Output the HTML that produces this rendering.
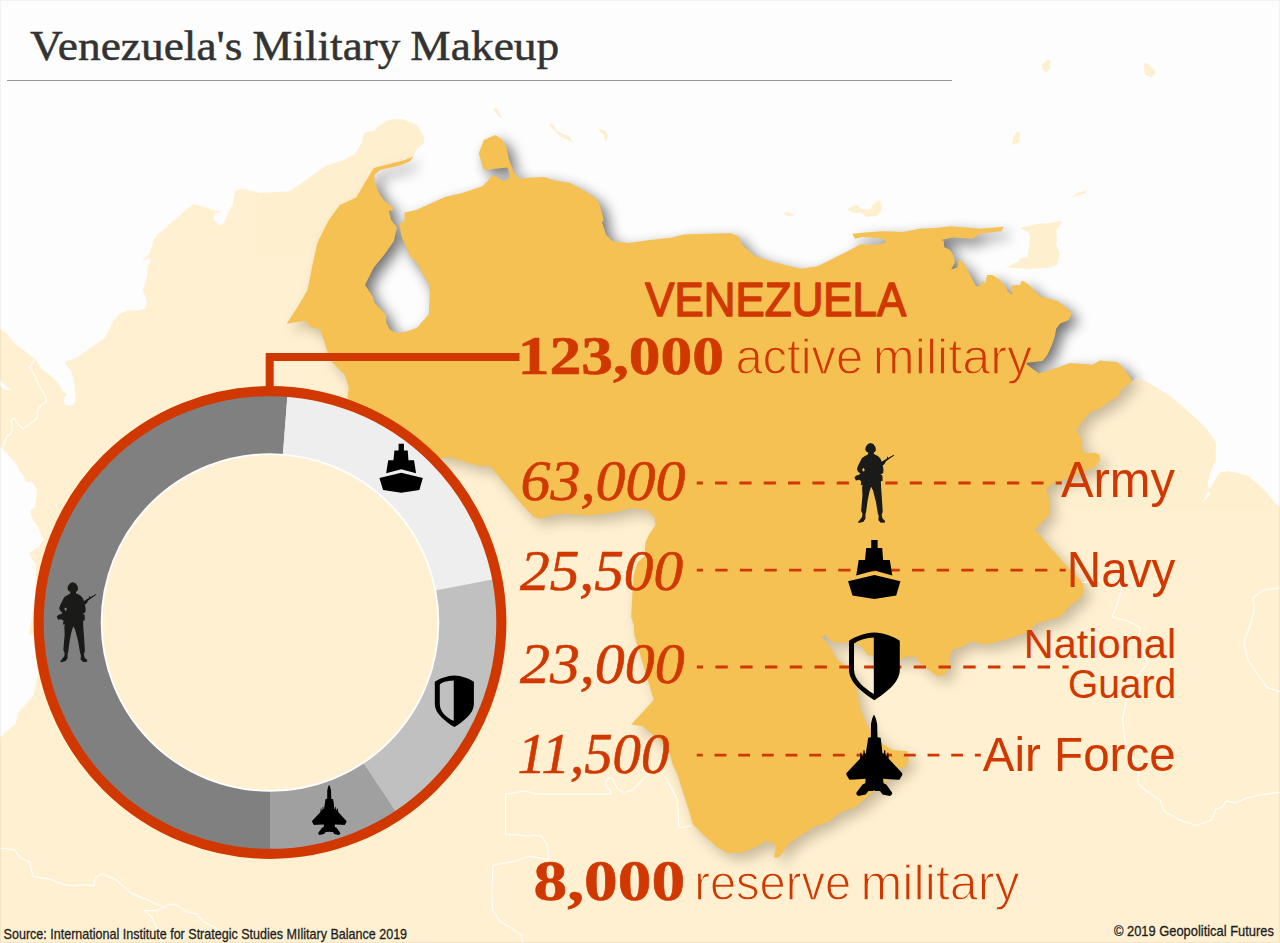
<!DOCTYPE html>
<html><head><meta charset="utf-8"><title>Venezuela's Military Makeup</title>
<style>
html,body{margin:0;padding:0;background:#FDFDFD;}
body{width:1280px;height:943px;overflow:hidden;font-family:"Liberation Sans",sans-serif;}
svg{display:block}
</style></head><body>
<svg width="1280" height="943" viewBox="0 0 1280 943">
<defs>
<filter id="sh" filterUnits="userSpaceOnUse" x="200" y="60" width="1060" height="880">
<feGaussianBlur in="SourceAlpha" stdDeviation="7"/>
<feOffset dx="5.5" dy="5.5"/>
<feComponentTransfer><feFuncA type="linear" slope="0.56"/></feComponentTransfer>
</filter>
</defs>
<rect width="1280" height="943" fill="#FDFDFD"/>

<path d="M287,323.2 L298.8,305 L307.5,290 L312.5,265 L317.5,242.5 L328.8,220 L340,205 L356.2,197.5 L365,182.5 L373.8,168 L390,163.8 L405,160 L413.8,156.2 L410,161.2 L400,165.5 L380,170 L374.5,175 L374.5,182.5 L380,195 L385,201.2 L393.8,208 L393,210 L388.8,210.8 L391.2,220 L397,227.5 L393.8,241.2 L385,253.8 L373.8,267.5 L365,285 L372.5,296.2 L374.5,302.5 L382.5,311.2 L386.2,315 L386.2,322.5 L390,330 L397.5,333.2 L407.5,331.2 L417.5,327.5 L422.5,321.2 L428.8,314.5 L430,290 L428.8,283.8 L422.5,273.8 L417.5,263.8 L410,256.2 L405,245 L401.2,235 L399.5,223.8 L404.5,221.2 L404.5,212.5 L416.2,210 L430,203.8 L445,197 L462.5,193 L482.5,186.2 L487.5,181.2 L491.2,176.2 L495,176.2 L503.8,181.2 L508.8,178.8 L509.5,173.8 L507.5,167.5 L483.8,170 L478.8,153.2 L483.8,140 L495.5,135 L501.2,138.8 L506.2,146.2 L508.8,158.8 L513.8,172.5 L519.5,178.8 L527.5,178 L543.8,177 L555,180.5 L570,183 L585,191.2 L596.2,198.8 L599.8,205 L602.5,215 L603.8,220 L602,222.5 L606.2,235 L612.5,241.2 L628.8,243 L650,240 L672.5,237.5 L683.8,234.5 L710,233.8 L731.2,233.2 L739.5,237 L741.2,243.8 L755,256.2 L775,262.5 L790,266.2 L801.2,268.8 L817.5,266.2 L832.5,258.8 L850,250 L860,244.5 L875,245 L885,243 L886.2,240.5 L880,238.2 L862.5,237 L855,238.8 L852.5,233.8 L865,232.5 L882.5,231.2 L902.5,232 L919.8,228.8 L935,228 L951.2,226.2 L980,228.8 L1003.8,226.8 L1001.2,231.2 L980,233.8 L972.5,238.8 L952.5,237.5 L941.2,240 L943.8,240.8 L944.2,247 L950,250 L953.8,256.2 L955,262.5 L951.2,269.5 L957.5,267.5 L958.8,260 L963.8,262.5 L970,275 L976.2,286.2 L980,286.2 L982.5,281.2 L985.5,283.8 L987,275 L992.5,275 L1000,280 L1006.2,287.5 L1007.5,291.2 L1012.5,295 L1011.2,285.5 L1020,285 L1022,280.5 L1027.5,283.8 L1040,296.2 L1057.5,301.2 L1067.5,308.8 L1071.8,313.8 L1068.8,320 L1060,323.8 L1056.2,328.8 L1055,335.8 L1052.5,343.5 L1047.5,354.8 L1042.5,361 L1025,363 L1038.8,373.5 L1056.2,368 L1070,363 L1092.5,364.8 L1100,360.5 L1117.5,362.2 L1123.8,368.5 L1132.5,381 L1127.5,384.8 L1120,391 L1118.8,396 L1110,401 L1100,408.5 L1090,412.2 L1083.8,419.8 L1076.2,430.5 L1082.5,441 L1081.2,447.2 L1085,453.5 L1095,452.8 L1099.5,454.8 L1100,459.8 L1095,467.2 L1080,473 L1070,477.2 L1052.5,483.5 L1046.2,489 L1048.8,498.5 L1050,513.5 L1035,529.8 L1050,547.2 L1070,569.8 L1077.5,577 L1083,583.2 L1083.8,592 L1080,598.2 L1070,605.8 L1060,617 L1050,619.5 L1037.5,623.2 L1025,633.2 L1007.5,639 L986.2,644.5 L971.2,641.5 L961.2,647 L952.5,649.5 L949.5,657 L948.8,668.2 L945,674.5 L937.5,676.5 L930,670.8 L920,663.2 L915,656.2 L905,657 L899.5,660 L885,657.5 L867.5,655 L860,645 L850,643 L832.5,642 L825,635 L821.2,636.2 L830,647.5 L837.5,660 L850,668.8 L855,680 L857.5,695 L860,707.5 L865,720 L870,730 L880,742.5 L892.5,750 L907.5,751.2 L908.8,760 L906.2,766.2 L900,768.8 L887.5,780 L865,798.8 L855,807.5 L840,812.5 L827.5,822.5 L815,826.2 L805,832.5 L790,842.5 L778.8,857.5 L773.8,857.5 L776.2,847.5 L772.5,842.5 L765,841.2 L755,847.5 L742.5,852.5 L727.5,853 L717.5,847.5 L705,836.2 L692.5,823.8 L688.8,810 L683.8,795 L677.5,775 L672.5,763.8 L670,753.8 L660,740 L650,732.5 L642.5,726.2 L631.2,724.5 L640,715 L653.8,700 L634.5,635.8 L633.8,625 L631.2,617.5 L632,600 L633.8,575 L637.5,562.5 L644.5,556.2 L645.5,542.5 L648.8,535 L655.5,525 L654.5,517.5 L647.5,510 L630,508 L615,512.5 L590,515.5 L565,513.8 L552.5,515 L540,518.8 L533.8,517 L522.5,505 L510,490 L497.5,475 L490,466.2 L477.5,465.5 L462.5,461.2 L450,457 L440,458 L400,440 L365,415 L347.5,397.5 L348.8,387.5 L345,375 L332.5,362.5 L327.5,352.5 L323.8,340 L320,328.8 L311.2,327.5 L305,320.5 L287,323.8 Z" fill="#000" filter="url(#sh)"/>
<g opacity="0.6">
<path d="M413.8,156.2 L415,151.2 L424.5,142.5 L423.8,136.2 L417,125 L402.5,119 L390,119.5 L377.5,126.2 L374.5,131.2 L367.5,131.8 L363.8,133.8 L362,142.5 L355,153.8 L343.8,160 L326.2,165.5 L290,191.2 L260,193 L242.5,188.8 L236.2,190.5 L233.8,195 L233,203.8 L227.5,213.8 L225,221.2 L221.2,225.5 L217,223.8 L213.2,218.8 L215,213.8 L222.5,211.2 L216.2,210.8 L193.8,203.8 L187.5,208.8 L176.2,218.8 L168.8,224.5 L166.2,228 L157.5,234.2 L153.2,241.2 L150,252.5 L141.8,262 L149.5,258 L151.2,260 L147.5,266.2 L147.5,275 L145,283.8 L142.5,290.5 L145,295 L147,302.5 L144.5,308.8 L137,310.8 L128,310 L120,313.8 L113.8,320 L105,337.5 L78.8,356.2 L72.5,359.5 L66.2,361.2 L65,363.8 L71.2,370.5 L73.8,380 L75.8,400 L73.8,404.5 L67.5,405.8 L64.5,403.8 L63.8,398.8 L67,393.8 L62.5,391.2 L58.8,383.8 L50,375 L42.5,370 L35,358.8 L15,343.8 L15,343.8 L7,333.8 L0,328.8 L0,943 L1280,943 L1280,507 L1276,504 L1268,494 L1258,484 L1248,476 L1239.8,473.5 L1227.5,471 L1220,472.3 L1211.3,486 L1202.5,502.3 L1210,494.8 L1207.5,483.5 L1210,473.5 L1215.8,459.8 L1215.8,442.3 L1207.5,429.8 L1197.5,419.8 L1185,408.5 L1170,396 L1150,383.5 L1137.5,377.3 L1132.5,381 L1128,379 L1080,395 L1000,420 L900,420 L500,420 L430,360 L340,345 L330,300 L350,240 L368,185 L373.8,169.2 L390,165 L405,161.2 Z M0,446.3 L7.5,453.8 L17,465 L19.5,471.3 L22.5,473.8 L26.3,482 L32.5,482 L37,490 L35,508 L30.5,509.5 L30.5,515 L37.5,526.3 L43.8,540 L38.8,547 L29,553.6 L36,565 L35,600 L29,634 L35,636.6 L38,672.5 L33.6,695 L18,713 L15.7,724 L4.5,733 L0,737.5 Z M0,381 L11,390 L5,390 L0,386 Z" fill="#FFE7B2" fill-rule="evenodd"/>
<path d="M1019.5,228 L1037.5,223.8 L1048.8,223 L1062.5,220.8 L1056.2,231.2 L1057,238.8 L1056.2,245 L1059.5,253 L1057.5,265 L1047.5,268 L1025,268.8 L1006.2,267.5 L1018.8,261.2 L1020,258.2 L1027.5,257 L1029.5,245 L1030,236.2 L1028,232 Z" fill="#FFE7B2"/>
<path d="M1071.2,198 L1077.5,193 L1087,190 L1086.2,193 Z" fill="#FFE7B2"/>
<path d="M1011.8,145 L1013,137.5 L1016.2,132.5 L1020,132 L1019.2,142.5 Z" fill="#FFE7B2"/>
<path d="M493,108.8 L496.2,108 L502,117 L500,118 Z" fill="#FFE7B2"/>
<path d="M549.5,123 L552.5,123.8 L557.5,131.2 L570,137 L572.5,142.5 L560,136.2 L549.5,125 Z" fill="#FFE7B2"/>
<path d="M598,128 L600,128.8 L606.2,131.2 L608,136.2 L605.5,142 L603.8,135 L600,131.2 Z" fill="#FFE7B2"/>
<path d="M783.8,213 L787.5,211.8 L794.5,215 L792.5,216.8 L786.2,215.5 Z" fill="#FFE7B2"/>
<path d="M847.5,210 L850,207 L857.5,205 L861.2,208.8 L870,209.5 L872.5,205 L878.8,200 L881.2,203.8 L882,210 L876.2,216.2 L866.2,217 L861.2,212.5 L852.5,212.5 Z" fill="#FFE7B2"/>
<path d="M1042.1,64.7 L1046.3,60.6 L1050,60 L1050.4,67.5 L1046.3,72.2 L1042.5,68.4 Z" fill="#FFE7B2"/>
<path d="M1144.1,63.2 L1147.5,63.2 L1156,72.2 L1151.3,77.4 L1145.6,75 L1144.1,70.3 Z" fill="#FFE7B2"/>
</g>
<path d="M0,848.1 L14.1,849.7 L20.3,857.5 L29.7,862.2 L32.8,876.2 L50,879.4 L62.5,884.1 L75,886.2 L81.2,884.7 L93.8,885.6 L95.3,877.8 L101.6,873.8 L115.6,879.4 L131.2,893.4 L146.9,899.7 L164.1,907.5 L170.3,903.8 L178.1,905.9 L187.5,912.2 L196.9,913.8 L203.1,921.6 L215.6,927.8 L223.4,943.1" fill="none" stroke="#FFFFFF" stroke-width="1.2" stroke-linejoin="round" opacity="0.95"/>
<path d="M164.1,907.5 L156.2,910.6 L144.4,910.6 L151.6,916.9 L156.2,926.2 L162.5,943.1" fill="none" stroke="#FFFFFF" stroke-width="1.2" stroke-linejoin="round" opacity="0.95"/>
<path d="M691.2,826.2 L678.8,827.5 L677.5,800 L670,785 L660,770 L647.5,775 L632.5,790 L623.8,792.5 L617.5,788.8 L612.5,778.8 L608.8,777.5 L605.8,781.2 L606.2,786.2 L610.8,791.2 L610.8,793.8 L535,793.8 L525,790.8 L515,792.5 L505.5,794.5 L505.5,835 L515,834.5 L527.5,836.2 L535,835 L541.2,836.2 L547.5,845 L548.8,860 L540,858 L528.8,856.2 L515,861.2 L493,865 L492,890 L492.5,910 L500,921.2 L515,930.5 L521.2,935 L522.5,943" fill="none" stroke="#FFFFFF" stroke-width="1.2" stroke-linejoin="round" opacity="0.95"/>
<path d="M1081.2,582.7 L1098.3,580.6 L1111.1,576.3 L1121.8,587 L1117.5,604.1 L1112,616.9 L1128.2,621.2 L1140.2,627.6 L1137.6,642.6 L1145.3,655.4 L1147.4,663.9 L1136.8,676.8 L1127.4,693.8 L1122.6,719.5 L1124.8,740.9 L1132.5,757.9 L1138.9,770.8 L1137.6,783.6 L1145.3,790 L1160.3,800.7 L1164.5,811.4 L1179.5,819.9 L1196.6,825.5 L1211.5,819.9 L1215.8,809.2 L1222.2,807.1 L1226.5,800.7 L1235,802.8 L1245.7,798.5 L1256.4,795.6 L1279.9,792.1" fill="none" stroke="#FFFFFF" stroke-width="1.2" stroke-linejoin="round" opacity="0.95"/>
<path d="M1279.9,587.9 L1262.8,590.4 L1253,597.7 L1254.3,610.5 L1250,625.5 L1243.6,642.6 L1247.9,659.7 L1256.4,672.5 L1267.1,687.4 L1279.9,691.7" fill="none" stroke="#FFFFFF" stroke-width="1.2" stroke-linejoin="round" opacity="0.95"/>
<path d="M35,358.8 L29.5,368 L33.8,373.8 L37.5,382.5 L46.2,397.5 L46.2,402 L41.2,405.5 L37.5,410 L36.8,418.8 L23,428.8 L20,426.2 L13.8,418 L11.2,420 L12.5,430 L10,434.5 L7,436.2 L2.5,447.5" fill="none" stroke="#FFFFFF" stroke-width="1.2" stroke-linejoin="round" opacity="0.95"/>
<path d="M287,323.2 L298.8,305 L307.5,290 L312.5,265 L317.5,242.5 L328.8,220 L340,205 L356.2,197.5 L365,182.5 L373.8,168 L390,163.8 L405,160 L413.8,156.2 L410,161.2 L400,165.5 L380,170 L374.5,175 L374.5,182.5 L380,195 L385,201.2 L393.8,208 L393,210 L388.8,210.8 L391.2,220 L397,227.5 L393.8,241.2 L385,253.8 L373.8,267.5 L365,285 L372.5,296.2 L374.5,302.5 L382.5,311.2 L386.2,315 L386.2,322.5 L390,330 L397.5,333.2 L407.5,331.2 L417.5,327.5 L422.5,321.2 L428.8,314.5 L430,290 L428.8,283.8 L422.5,273.8 L417.5,263.8 L410,256.2 L405,245 L401.2,235 L399.5,223.8 L404.5,221.2 L404.5,212.5 L416.2,210 L430,203.8 L445,197 L462.5,193 L482.5,186.2 L487.5,181.2 L491.2,176.2 L495,176.2 L503.8,181.2 L508.8,178.8 L509.5,173.8 L507.5,167.5 L483.8,170 L478.8,153.2 L483.8,140 L495.5,135 L501.2,138.8 L506.2,146.2 L508.8,158.8 L513.8,172.5 L519.5,178.8 L527.5,178 L543.8,177 L555,180.5 L570,183 L585,191.2 L596.2,198.8 L599.8,205 L602.5,215 L603.8,220 L602,222.5 L606.2,235 L612.5,241.2 L628.8,243 L650,240 L672.5,237.5 L683.8,234.5 L710,233.8 L731.2,233.2 L739.5,237 L741.2,243.8 L755,256.2 L775,262.5 L790,266.2 L801.2,268.8 L817.5,266.2 L832.5,258.8 L850,250 L860,244.5 L875,245 L885,243 L886.2,240.5 L880,238.2 L862.5,237 L855,238.8 L852.5,233.8 L865,232.5 L882.5,231.2 L902.5,232 L919.8,228.8 L935,228 L951.2,226.2 L980,228.8 L1003.8,226.8 L1001.2,231.2 L980,233.8 L972.5,238.8 L952.5,237.5 L941.2,240 L943.8,240.8 L944.2,247 L950,250 L953.8,256.2 L955,262.5 L951.2,269.5 L957.5,267.5 L958.8,260 L963.8,262.5 L970,275 L976.2,286.2 L980,286.2 L982.5,281.2 L985.5,283.8 L987,275 L992.5,275 L1000,280 L1006.2,287.5 L1007.5,291.2 L1012.5,295 L1011.2,285.5 L1020,285 L1022,280.5 L1027.5,283.8 L1040,296.2 L1057.5,301.2 L1067.5,308.8 L1071.8,313.8 L1068.8,320 L1060,323.8 L1056.2,328.8 L1055,335.8 L1052.5,343.5 L1047.5,354.8 L1042.5,361 L1025,363 L1038.8,373.5 L1056.2,368 L1070,363 L1092.5,364.8 L1100,360.5 L1117.5,362.2 L1123.8,368.5 L1132.5,381 L1127.5,384.8 L1120,391 L1118.8,396 L1110,401 L1100,408.5 L1090,412.2 L1083.8,419.8 L1076.2,430.5 L1082.5,441 L1081.2,447.2 L1085,453.5 L1095,452.8 L1099.5,454.8 L1100,459.8 L1095,467.2 L1080,473 L1070,477.2 L1052.5,483.5 L1046.2,489 L1048.8,498.5 L1050,513.5 L1035,529.8 L1050,547.2 L1070,569.8 L1077.5,577 L1083,583.2 L1083.8,592 L1080,598.2 L1070,605.8 L1060,617 L1050,619.5 L1037.5,623.2 L1025,633.2 L1007.5,639 L986.2,644.5 L971.2,641.5 L961.2,647 L952.5,649.5 L949.5,657 L948.8,668.2 L945,674.5 L937.5,676.5 L930,670.8 L920,663.2 L915,656.2 L905,657 L899.5,660 L885,657.5 L867.5,655 L860,645 L850,643 L832.5,642 L825,635 L821.2,636.2 L830,647.5 L837.5,660 L850,668.8 L855,680 L857.5,695 L860,707.5 L865,720 L870,730 L880,742.5 L892.5,750 L907.5,751.2 L908.8,760 L906.2,766.2 L900,768.8 L887.5,780 L865,798.8 L855,807.5 L840,812.5 L827.5,822.5 L815,826.2 L805,832.5 L790,842.5 L778.8,857.5 L773.8,857.5 L776.2,847.5 L772.5,842.5 L765,841.2 L755,847.5 L742.5,852.5 L727.5,853 L717.5,847.5 L705,836.2 L692.5,823.8 L688.8,810 L683.8,795 L677.5,775 L672.5,763.8 L670,753.8 L660,740 L650,732.5 L642.5,726.2 L631.2,724.5 L640,715 L653.8,700 L634.5,635.8 L633.8,625 L631.2,617.5 L632,600 L633.8,575 L637.5,562.5 L644.5,556.2 L645.5,542.5 L648.8,535 L655.5,525 L654.5,517.5 L647.5,510 L630,508 L615,512.5 L590,515.5 L565,513.8 L552.5,515 L540,518.8 L533.8,517 L522.5,505 L510,490 L497.5,475 L490,466.2 L477.5,465.5 L462.5,461.2 L450,457 L440,458 L400,440 L365,415 L347.5,397.5 L348.8,387.5 L345,375 L332.5,362.5 L327.5,352.5 L323.8,340 L320,328.8 L311.2,327.5 L305,320.5 L287,323.8 Z" fill="#F5C153"/>
<rect x="0.5" y="0.5" width="1279" height="942" fill="none" stroke="#000000" stroke-opacity="0.045" stroke-width="1"/>
<text x="30" y="60" font-family="'Liberation Serif', sans-serif" font-size="43.2" font-weight="normal" font-style="normal" fill="#333333" text-anchor="start" textLength="212.5" lengthAdjust="spacingAndGlyphs" stroke="#333333" stroke-width="0.5">Venezuela's</text>
<text x="252.3" y="60" font-family="'Liberation Serif', sans-serif" font-size="43.2" font-weight="normal" font-style="normal" fill="#333333" text-anchor="start" textLength="148" lengthAdjust="spacingAndGlyphs" stroke="#333333" stroke-width="0.5">Military</text>
<text x="410.3" y="60" font-family="'Liberation Serif', sans-serif" font-size="43.2" font-weight="normal" font-style="normal" fill="#333333" text-anchor="start" textLength="149" lengthAdjust="spacingAndGlyphs" stroke="#333333" stroke-width="0.5">Makeup</text>
<rect x="7" y="80" width="945" height="1" fill="#969696"/>
<line x1="696.8" y1="483" x2="1061.8" y2="483" stroke="#D03800" stroke-width="2.8" stroke-dasharray="12.167 12.167" stroke-dashoffset="6.083"/>
<line x1="696.8" y1="570.2" x2="1065.8" y2="570.2" stroke="#D03800" stroke-width="2.8" stroke-dasharray="12.300 12.300" stroke-dashoffset="6.150"/>
<line x1="696.8" y1="667" x2="1068.6" y2="667" stroke="#D03800" stroke-width="2.8" stroke-dasharray="12.393 12.393" stroke-dashoffset="6.197"/>
<line x1="696.8" y1="755.2" x2="980.8" y2="755.2" stroke="#D03800" stroke-width="2.8" stroke-dasharray="11.833 11.833" stroke-dashoffset="5.917"/>
<text x="645.3" y="316.2" font-family="'Liberation Sans', sans-serif" font-size="48" font-weight="normal" font-style="normal" fill="#D03800" text-anchor="start" textLength="261" lengthAdjust="spacingAndGlyphs" stroke="#D03800" stroke-width="1.5" stroke-linejoin="round">VENEZUELA</text>
<text x="517.8" y="373.8" font-family="'Liberation Serif', sans-serif" font-size="55" font-weight="bold" font-style="normal" fill="#D03800" text-anchor="start" textLength="206.2" lengthAdjust="spacingAndGlyphs" stroke="#D03800" stroke-width="0.6">123,000</text>
<text x="735.4" y="374.4" font-family="'Liberation Sans', sans-serif" font-size="50" font-weight="normal" font-style="normal" fill="#D03800" text-anchor="start" textLength="127.8" lengthAdjust="spacingAndGlyphs" stroke="#F5C153" stroke-width="1.3">active</text>
<text x="872.8" y="374.4" font-family="'Liberation Sans', sans-serif" font-size="50" font-weight="normal" font-style="normal" fill="#D03800" text-anchor="start" textLength="159.3" lengthAdjust="spacingAndGlyphs" stroke="#F5C153" stroke-width="1.3">military</text>
<text x="520.5" y="500.2" font-family="'Liberation Serif', sans-serif" font-size="56.5" font-weight="normal" font-style="italic" fill="#D03800" text-anchor="start" textLength="165" lengthAdjust="spacingAndGlyphs" stroke="#D03800" stroke-width="0.6">63,000</text>
<text x="520" y="590.2" font-family="'Liberation Serif', sans-serif" font-size="56.5" font-weight="normal" font-style="italic" fill="#D03800" text-anchor="start" textLength="163.2" lengthAdjust="spacingAndGlyphs" stroke="#D03800" stroke-width="0.6">25,500</text>
<text x="520" y="683.3" font-family="'Liberation Serif', sans-serif" font-size="56.5" font-weight="normal" font-style="italic" fill="#D03800" text-anchor="start" textLength="164.6" lengthAdjust="spacingAndGlyphs" stroke="#D03800" stroke-width="0.6">23,000</text>
<text x="517.4" y="773.3" font-family="'Liberation Serif', sans-serif" font-size="56.5" font-weight="normal" font-style="italic" fill="#D03800" text-anchor="start" textLength="152" lengthAdjust="spacingAndGlyphs" stroke="#D03800" stroke-width="0.6">11,500</text>
<text x="1061" y="496.6" font-family="'Liberation Sans', sans-serif" font-size="49.3" font-weight="normal" font-style="normal" fill="#D03800" text-anchor="start" textLength="114" lengthAdjust="spacingAndGlyphs">Army</text>
<text x="1066.8" y="586.6" font-family="'Liberation Sans', sans-serif" font-size="49.3" font-weight="normal" font-style="normal" fill="#D03800" text-anchor="start" textLength="108.6" lengthAdjust="spacingAndGlyphs">Navy</text>
<text x="1023.7" y="658.3" font-family="'Liberation Sans', sans-serif" font-size="40" font-weight="normal" font-style="normal" fill="#D03800" text-anchor="start" textLength="152.5" lengthAdjust="spacingAndGlyphs">National</text>
<text x="1067.9" y="698" font-family="'Liberation Sans', sans-serif" font-size="40" font-weight="normal" font-style="normal" fill="#D03800" text-anchor="start" textLength="108.3" lengthAdjust="spacingAndGlyphs">Guard</text>
<text x="982.8" y="771" font-family="'Liberation Sans', sans-serif" font-size="48.5" font-weight="normal" font-style="normal" fill="#D03800" text-anchor="start" textLength="192.8" lengthAdjust="spacingAndGlyphs">Air Force</text>
<text x="533.5" y="900.3" font-family="'Liberation Serif', sans-serif" font-size="57" font-weight="bold" font-style="normal" fill="#D03800" text-anchor="start" textLength="151.6" lengthAdjust="spacingAndGlyphs" stroke="#D03800" stroke-width="0.6">8,000</text>
<text x="694.3" y="900" font-family="'Liberation Sans', sans-serif" font-size="50" font-weight="normal" font-style="normal" fill="#D03800" text-anchor="start" textLength="156.8" lengthAdjust="spacingAndGlyphs" stroke="#FEF0D0" stroke-width="1.3">reserve</text>
<text x="860.5" y="900" font-family="'Liberation Sans', sans-serif" font-size="50" font-weight="normal" font-style="normal" fill="#D03800" text-anchor="start" textLength="159" lengthAdjust="spacingAndGlyphs" stroke="#FEF0D0" stroke-width="1.3">military</text>
<path transform="translate(844,436) scale(0.09970)" d="M265,70 L295,80 L315,110 L320,140 L312,158 L300,165 L298,180 L340,200 L365,225 L378,258 L430,225 L432,205 L442,210 L441,220 L500,188 L504,196 L445,235 L420,255 L410,275 L395,290 L388,292 L395,330 L395,365 L380,380 L366,385 L385,395 L388,450 L370,455 L372,520 L378,600 L385,700 L388,760 L378,790 L385,825 L410,850 L412,868 L370,870 L345,845 L348,800 L340,780 L320,660 L290,545 L272,510 L255,560 L235,660 L222,760 L215,790 L215,830 L195,860 L150,872 L140,862 L160,840 L182,810 L185,780 L172,750 L178,680 L185,600 L182,520 L186,480 L178,497 L168,490 L174,455 L150,440 L120,446 L105,415 L120,398 L150,388 L165,378 L140,355 L130,330 L140,300 L165,250 L180,220 L210,200 L240,185 L243,165 L225,158 L213,135 L220,105 L240,80 Z M182,330 L200,322 L208,345 L190,358 Z" fill="#1a1a18" fill-rule="evenodd"/>
<path transform="translate(0,0) scale(1.00000)" d="M871.2,540 L877.6,540 L877.6,548 L882.2,548 L883.1,560 L889.8,560 L892.3,575.6 L874.4,570.6 L856.2,575.6 L858.7,560 L865,560 L866.2,548 L871.2,548 Z M848.1,581.2 L874.4,575 L900.4,581.2 L896.2,595.6 L874.4,599 L852.5,595.6 Z" fill="#000"/>
<path transform="translate(874.4,632.5)" d="M0,0 C-9.13,0.20 -18.27,3.73 -25.38,8.13 L-25.38,37.26 C-25.38,50.13 -11.67,59.96 0,67.75 C11.67,59.96 25.38,50.13 25.38,37.26 L25.38,8.13 C18.27,3.73 9.13,0.20 0,0 Z M-0.6,5.10 C-8.12,5.40 -15.22,7.58 -20.38,10.88 L-20.38,37.26 C-20.38,47.42 -10.15,55.55 -0.6,61.50 Z" fill="#000" fill-rule="evenodd"/>
<path transform="translate(800,705) scale(0.12500)" d="M592,75 L578,105 L568,150 L567,258 L545,262 L540,300 L530,360 L528,385 L520,390 L515,360 L508,362 L506,400 L495,410 L490,380 L483,382 L480,430 L370,545 L372,560 L395,598 L440,595 L525,590 L522,625 L500,635 L452,700 L450,712 L465,728 L525,715 L548,688 L585,688 L592,680 L600,688 L640,688 L660,715 L720,728 L738,712 L735,698 L690,635 L668,625 L665,590 L750,595 L795,598 L818,560 L818,545 L710,430 L707,382 L700,380 L695,410 L684,400 L682,362 L675,360 L670,390 L660,385 L650,300 L645,262 L620,258 L617,150 L606,105 Z" fill="#000"/>
<circle cx="270" cy="622.5" r="168.4" fill="#FEF0D0"/>
<path d="M270.00,851.50 A229,229 0 1 1 287.53,394.17 L282.89,454.59 A168.4,168.4 0 1 0 270.00,790.90 Z" fill="#808080"/>
<path d="M287.53,394.17 A229,229 0 0 1 494.81,578.90 L435.32,590.44 A168.4,168.4 0 0 0 282.89,454.59 Z" fill="#EEEEEE"/>
<path d="M494.81,578.90 A229,229 0 0 1 396.92,813.11 L363.33,762.67 A168.4,168.4 0 0 0 435.32,590.44 Z" fill="#C0C0C0"/>
<path d="M396.92,813.11 A229,229 0 0 1 270.00,851.50 L270.00,790.90 A168.4,168.4 0 0 0 363.33,762.67 Z" fill="#A0A0A0"/>
<circle cx="270" cy="622.5" r="168.4" fill="none" stroke="#FFFFFF" stroke-width="1.8"/>
<circle cx="270" cy="622.5" r="231.35" fill="none" stroke="#D03800" stroke-width="10.1"/>
<path d="M269.7,390 L269.7,357 L519.5,357" fill="none" stroke="#D03800" stroke-width="8"/>
<path transform="translate(46.200000000000045,575.3) scale(0.09970)" d="M265,70 L295,80 L315,110 L320,140 L312,158 L300,165 L298,180 L340,200 L365,225 L378,258 L430,225 L432,205 L442,210 L441,220 L500,188 L504,196 L445,235 L420,255 L410,275 L395,290 L388,292 L395,330 L395,365 L380,380 L366,385 L385,395 L388,450 L370,455 L372,520 L378,600 L385,700 L388,760 L378,790 L385,825 L410,850 L412,868 L370,870 L345,845 L348,800 L340,780 L320,660 L290,545 L272,510 L255,560 L235,660 L222,760 L215,790 L215,830 L195,860 L150,872 L140,862 L160,840 L182,810 L185,780 L172,750 L178,680 L185,600 L182,520 L186,480 L178,497 L168,490 L174,455 L150,440 L120,446 L105,415 L120,398 L150,388 L165,378 L140,355 L130,330 L140,300 L165,250 L180,220 L210,200 L240,185 L243,165 L225,158 L213,135 L220,105 L240,80 Z M182,330 L200,322 L208,345 L190,358 Z" fill="#1a1a18" fill-rule="evenodd"/>
<path transform="translate(-324.50199999999995,-4.449999999999989) scale(0.83000)" d="M871.2,540 L877.6,540 L877.6,548 L882.2,548 L883.1,560 L889.8,560 L892.3,575.6 L874.4,570.6 L856.2,575.6 L858.7,560 L865,560 L866.2,548 L871.2,548 Z M848.1,581.2 L874.4,575 L900.4,581.2 L896.2,595.6 L874.4,599 L852.5,595.6 Z" fill="#000"/>
<path transform="translate(454.35,675.5)" d="M0,0 C-7.04,0.15 -14.08,2.84 -19.55,6.19 L-19.55,28.38 C-19.55,38.18 -8.99,45.67 0,51.60 C8.99,45.67 19.55,38.18 19.55,28.38 L19.55,6.19 C14.08,2.84 7.04,0.15 0,0 Z M-0.6,5.10 C-6.26,5.40 -11.73,6.37 -14.55,8.94 L-14.55,28.38 C-14.55,36.12 -7.82,42.31 -0.6,45.35 Z" fill="#000" fill-rule="evenodd"/>
<path transform="translate(283.59000000000003,779.034375) scale(0.07687)" d="M592,75 L578,105 L568,150 L567,258 L545,262 L540,300 L530,360 L528,385 L520,390 L515,360 L508,362 L506,400 L495,410 L490,380 L483,382 L480,430 L370,545 L372,560 L395,598 L440,595 L525,590 L522,625 L500,635 L452,700 L450,712 L465,728 L525,715 L548,688 L585,688 L592,680 L600,688 L640,688 L660,715 L720,728 L738,712 L735,698 L690,635 L668,625 L665,590 L750,595 L795,598 L818,560 L818,545 L710,430 L707,382 L700,380 L695,410 L684,400 L682,362 L675,360 L670,390 L660,385 L650,300 L645,262 L620,258 L617,150 L606,105 Z" fill="#000"/>
<text x="3.6" y="939" font-family="'Liberation Sans', sans-serif" font-size="14.6" font-weight="normal" font-style="normal" fill="#1e1e1e" text-anchor="start" textLength="403.5" lengthAdjust="spacingAndGlyphs" stroke="#1e1e1e" stroke-width="0.3">Source: International Institute for Strategic Studies MIlitary Balance 2019</text>
<text x="1113.9" y="936.2" font-family="'Liberation Sans', sans-serif" font-size="14.5" font-weight="normal" font-style="normal" fill="#1e1e1e" text-anchor="start" textLength="160" lengthAdjust="spacingAndGlyphs" stroke="#1e1e1e" stroke-width="0.3">© 2019 Geopolitical Futures</text>
</svg></body></html>
